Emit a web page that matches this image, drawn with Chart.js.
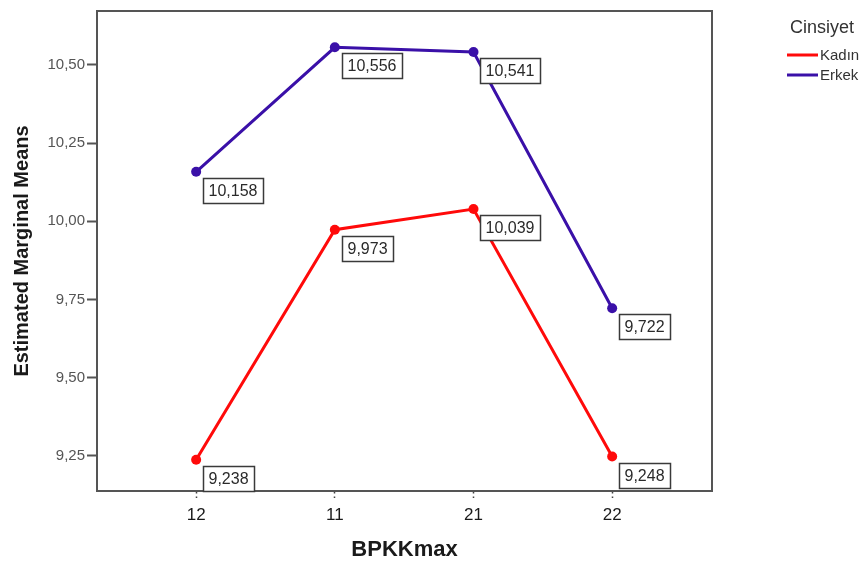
<!DOCTYPE html>
<html>
<head>
<meta charset="utf-8">
<script src="https://cdn.jsdelivr.net/npm/chart.js@4.4.1/dist/chart.umd.min.js"></script>
<style>
  html, body { margin: 0; padding: 0; background: #fff; }
  #wrap { width: 866px; height: 563px; position: relative; }
</style>
</head>
<body>
<div id="wrap"><canvas id="c" width="866" height="563"></canvas></div>
<script>
// BPKKmax levels on the x axis
const categories = ['12', '11', '21', '22'];
// Estimated marginal means per gender
const kadinValues = [9.238, 9.973, 10.039, 9.248];
const erkekValues = [10.158, 10.556, 10.541, 9.722];
// Y axis tick values
const yTicks = [9.25, 9.50, 9.75, 10.00, 10.25, 10.50];
const legendTitle = 'Cinsiyet';
const seriesNames = ['Kadın', 'Erkek'];

const RED = '#ff0a0a';
const BLUE = '#3a10a8';
const FRAME = '#555555';
const FONT = 'Arial, "Liberation Sans", sans-serif';

const fmt = (v, d) => v.toFixed(d).replace('.', ',');

const toPoints = arr => arr.map((v, i) => ({ x: i, y: v }));

// Value boxes drawn beside each point, plus the frame and legend
const decorations = {
  id: 'decorations',
  afterDraw(chart) {
    const ctx = chart.ctx;
    const a = chart.chartArea;
    ctx.save();
    // full plot frame
    ctx.strokeStyle = FRAME;
    ctx.lineWidth = 2;
    ctx.beginPath();
    ctx.moveTo(a.left, a.bottom);
    ctx.lineTo(a.left, a.top);
    ctx.lineTo(a.right, a.top);
    ctx.lineTo(a.right, a.bottom);
    ctx.lineTo(a.left, a.bottom);
    ctx.stroke();

    // value labels
    ctx.font = '16px ' + FONT;
    ctx.textBaseline = 'middle';
    ctx.textAlign = 'left';
    chart.data.datasets.forEach((ds, di) => {
      const meta = chart.getDatasetMeta(di);
      meta.data.forEach((pt, i) => {
        const txt = fmt(ds.data[i].y, 3);
        const w = Math.round(ctx.measureText(txt).width + 11);
        const h = 25;
        const x = Math.round(pt.x + 7) + 0.5;
        const y = Math.round(pt.y + 6) + 0.5;
        ctx.fillStyle = '#ffffff';
        ctx.fillRect(x, y, w, h);
        ctx.strokeStyle = '#3a3a3a';
        ctx.lineWidth = 1.5;
        ctx.strokeRect(x, y, w, h);
        ctx.fillStyle = '#2a2a2a';
        ctx.fillText(txt, x + 5, y + h / 2 + 1);
      });
    });

    // legend
    ctx.fillStyle = '#333333';
    ctx.font = '18px ' + FONT;
    ctx.fillText(legendTitle, 790, 28);
    ctx.font = '15px ' + FONT;
    const colors = [RED, BLUE];
    seriesNames.forEach((n, i) => {
      const ly = 55 + i * 20;
      ctx.strokeStyle = colors[i];
      ctx.lineWidth = 3;
      ctx.beginPath();
      ctx.moveTo(787, ly);
      ctx.lineTo(818, ly);
      ctx.stroke();
      ctx.fillStyle = '#333333';
      ctx.fillText(n, 820, ly + 1);
    });
    ctx.restore();
  }
};

new Chart(document.getElementById('c'), {
  type: 'line',
  data: {
    datasets: [
      {
        label: seriesNames[0],
        data: toPoints(kadinValues),
        borderColor: RED,
        backgroundColor: RED,
        borderWidth: 3,
        pointRadius: 5,
        pointBorderWidth: 0,
        tension: 0
      },
      {
        label: seriesNames[1],
        data: toPoints(erkekValues),
        borderColor: BLUE,
        backgroundColor: BLUE,
        borderWidth: 3,
        pointRadius: 5,
        pointBorderWidth: 0,
        tension: 0
      }
    ]
  },
  options: {
    responsive: false,
    animation: false,
    layout: { padding: { top: 10, right: 154, left: 0, bottom: 0 } },
    plugins: {
      legend: { display: false },
      tooltip: { enabled: false }
    },
    scales: {
      x: {
        type: 'linear',
        min: -0.715,
        max: 3.72,
        afterBuildTicks(scale) {
          scale.ticks = categories.map((c, i) => ({ value: i }));
        },
        afterFit(scale) { scale.height = 72; },
        ticks: {
          callback: v => categories[v],
          color: '#1a1a1a',
          font: { family: FONT, size: 17 },
          padding: 5,
          maxRotation: 0
        },
        grid: {
          display: true,
          drawOnChartArea: false,
          drawTicks: true,
          tickLength: 9,
          tickColor: '#444',
          tickWidth: 1.5,
          tickBorderDash: [1.5, 3]
        },
        border: { display: true, color: FRAME, width: 2 },
        title: {
          display: true,
          text: 'BPKKmax',
          color: '#1a1a1a',
          font: { family: FONT, size: 22, weight: 'bold' },
          padding: { top: 0, bottom: 0 }
        }
      },
      y: {
        min: 9.138,
        max: 10.672,
        afterBuildTicks(scale) {
          scale.ticks = yTicks.map(v => ({ value: v }));
        },
        afterFit(scale) { scale.width = 97; },
        ticks: {
          callback: v => fmt(v, 2),
          color: '#555555',
          font: { family: FONT, size: 15 },
          padding: 2
        },
        grid: {
          display: true,
          drawOnChartArea: false,
          drawTicks: true,
          tickLength: 10,
          tickColor: FRAME,
          tickWidth: 2
        },
        border: { display: true, color: FRAME, width: 2 },
        title: {
          display: true,
          text: 'Estimated Marginal Means',
          color: '#1a1a1a',
          font: { family: FONT, size: 20, weight: 'bold' },
          padding: { top: 10, bottom: 0 }
        }
      }
    }
  },
  plugins: [decorations]
});
</script>
</body>
</html>
